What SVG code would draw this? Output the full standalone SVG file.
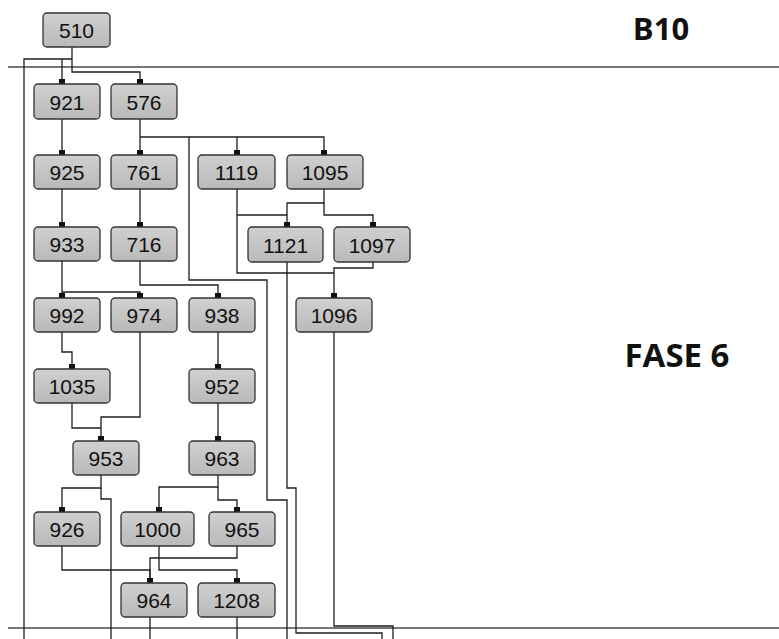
<svg xmlns="http://www.w3.org/2000/svg" width="779" height="639" viewBox="0 0 779 639">
<defs>
<linearGradient id="g" x1="0" y1="0" x2="0" y2="1">
<stop offset="0" stop-color="#d0d0d0"/>
<stop offset="1" stop-color="#b9b9b9"/>
</linearGradient>
</defs>
<style>
.box{fill:url(#g);stroke:#333;stroke-width:1.3}
.lbl{font-family:"Liberation Sans",Arial,sans-serif;font-size:21px;fill:#111;text-anchor:middle}
.mk{fill:#111}
.c{fill:none;stroke:#1e1e1e;stroke-width:1.3}
.frame{stroke:#4a4a4a;stroke-width:1.5}
.title{font-family:"Open Sans","DejaVu Sans",sans-serif;font-weight:bold;fill:#111;text-anchor:middle}
</style>
<rect width="779" height="639" fill="#fff"/>
<line class="frame" x1="8" y1="67" x2="779" y2="67"/>
<line class="frame" x1="8" y1="628" x2="779" y2="628"/>
<text class="title" x="661" y="40" font-size="31">B10</text>
<text class="title" x="677" y="367" font-size="33">FASE 6</text>
<g id="connectors">
<path class="c" d="M72,47 V72 H140 V80"/>
<path class="c" d="M24,639 V59 H72"/>
<path class="c" d="M62,59 V80"/>
<path class="c" d="M62,119 V151"/>
<path class="c" d="M62,189 V223"/>
<path class="c" d="M62,261 V294"/>
<path class="c" d="M62,292 H140 V294"/>
<path class="c" d="M140,119 V151"/>
<path class="c" d="M140,137 H324 V151"/>
<path class="c" d="M237,137 V151"/>
<path class="c" d="M189,137 V280 H267 V500 H287 V639"/>
<path class="c" d="M140,189 V223"/>
<path class="c" d="M140,261 V285 H218 V294"/>
<path class="c" d="M237,189 V273 H334"/>
<path class="c" d="M237,215 H287"/>
<path class="c" d="M324,189 V203 H287 V223"/>
<path class="c" d="M324,203 V215 H373 V223"/>
<path class="c" d="M373,262 V268 H334 V294"/>
<path class="c" d="M287,262 V488 H296 V633 H382 V639"/>
<path class="c" d="M334,332 V626 H393 V639"/>
<path class="c" d="M62,332 V352 H72 V365"/>
<path class="c" d="M140,332 V417 H101 V437"/>
<path class="c" d="M72,403 V428 H101"/>
<path class="c" d="M218,332 V365"/>
<path class="c" d="M218,403 V437"/>
<path class="c" d="M101,475 V488 H62 V508"/>
<path class="c" d="M101,488 V499 H111 V639"/>
<path class="c" d="M218,475 V487 H159 V508"/>
<path class="c" d="M218,487 V500 H237 V508"/>
<path class="c" d="M62,546 V570 H150 V579"/>
<path class="c" d="M237,546 V558 H150 V579"/>
<path class="c" d="M159,546 V570 H237 V579"/>
<path class="c" d="M150,617 V639"/>
<path class="c" d="M237,617 V639"/>
</g>
<g id="n510"><rect class="box" x="43" y="13" width="67" height="34" rx="4"/><text class="lbl" x="76.5" y="38">510</text></g>
<g id="n921"><rect class="mk" x="59" y="79" width="6" height="5"/><rect class="box" x="34" y="84" width="66" height="35" rx="4"/><text class="lbl" x="67" y="109.5">921</text></g>
<g id="n576"><rect class="mk" x="137" y="79" width="6" height="5"/><rect class="box" x="111" y="84" width="66" height="35" rx="4"/><text class="lbl" x="144" y="109.5">576</text></g>
<g id="n925"><rect class="mk" x="59" y="150" width="6" height="5"/><rect class="box" x="34" y="155" width="66" height="34" rx="4"/><text class="lbl" x="67" y="180">925</text></g>
<g id="n761"><rect class="mk" x="137" y="150" width="6" height="5"/><rect class="box" x="111" y="155" width="66" height="34" rx="4"/><text class="lbl" x="144" y="180">761</text></g>
<g id="n1119"><rect class="mk" x="234" y="150" width="6" height="5"/><rect class="box" x="198" y="155" width="77" height="34" rx="4"/><text class="lbl" x="236.5" y="180">1119</text></g>
<g id="n1095"><rect class="mk" x="321" y="150" width="6" height="5"/><rect class="box" x="287" y="155" width="76" height="34" rx="4"/><text class="lbl" x="325" y="180">1095</text></g>
<g id="n933"><rect class="mk" x="59" y="222" width="6" height="5"/><rect class="box" x="34" y="227" width="66" height="34" rx="4"/><text class="lbl" x="67" y="252">933</text></g>
<g id="n716"><rect class="mk" x="137" y="222" width="6" height="5"/><rect class="box" x="111" y="227" width="66" height="34" rx="4"/><text class="lbl" x="144" y="252">716</text></g>
<g id="n1121"><rect class="mk" x="284" y="222" width="6" height="5"/><rect class="box" x="248" y="227" width="75" height="35" rx="4"/><text class="lbl" x="285.5" y="252.5">1121</text></g>
<g id="n1097"><rect class="mk" x="370" y="222" width="6" height="5"/><rect class="box" x="334" y="227" width="76" height="35" rx="4"/><text class="lbl" x="372" y="252.5">1097</text></g>
<g id="n992"><rect class="mk" x="59" y="293" width="6" height="5"/><rect class="box" x="34" y="298" width="66" height="34" rx="4"/><text class="lbl" x="67" y="323">992</text></g>
<g id="n974"><rect class="mk" x="137" y="293" width="6" height="5"/><rect class="box" x="111" y="298" width="66" height="34" rx="4"/><text class="lbl" x="144" y="323">974</text></g>
<g id="n938"><rect class="mk" x="215" y="293" width="6" height="5"/><rect class="box" x="189" y="298" width="66" height="34" rx="4"/><text class="lbl" x="222" y="323">938</text></g>
<g id="n1096"><rect class="mk" x="331" y="293" width="6" height="5"/><rect class="box" x="296" y="298" width="76" height="34" rx="4"/><text class="lbl" x="334" y="323">1096</text></g>
<g id="n1035"><rect class="mk" x="69" y="364" width="6" height="5"/><rect class="box" x="34" y="369" width="76" height="34" rx="4"/><text class="lbl" x="72" y="394">1035</text></g>
<g id="n952"><rect class="mk" x="215" y="364" width="6" height="5"/><rect class="box" x="189" y="369" width="66" height="34" rx="4"/><text class="lbl" x="222" y="394">952</text></g>
<g id="n953"><rect class="mk" x="98" y="436" width="6" height="5"/><rect class="box" x="73" y="441" width="66" height="34" rx="4"/><text class="lbl" x="106" y="466">953</text></g>
<g id="n963"><rect class="mk" x="215" y="436" width="6" height="5"/><rect class="box" x="189" y="441" width="66" height="34" rx="4"/><text class="lbl" x="222" y="466">963</text></g>
<g id="n926"><rect class="mk" x="59" y="507" width="6" height="5"/><rect class="box" x="34" y="512" width="66" height="34" rx="4"/><text class="lbl" x="67" y="537">926</text></g>
<g id="n1000"><rect class="mk" x="156" y="507" width="6" height="5"/><rect class="box" x="121" y="512" width="73" height="34" rx="4"/><text class="lbl" x="157.5" y="537">1000</text></g>
<g id="n965"><rect class="mk" x="234" y="507" width="6" height="5"/><rect class="box" x="209" y="512" width="66" height="34" rx="4"/><text class="lbl" x="242" y="537">965</text></g>
<g id="n964"><rect class="mk" x="147" y="578" width="6" height="5"/><rect class="box" x="121" y="583" width="66" height="34" rx="4"/><text class="lbl" x="154" y="608">964</text></g>
<g id="n1208"><rect class="mk" x="234" y="578" width="6" height="5"/><rect class="box" x="198" y="583" width="77" height="34" rx="4"/><text class="lbl" x="236.5" y="608">1208</text></g>
</svg>
